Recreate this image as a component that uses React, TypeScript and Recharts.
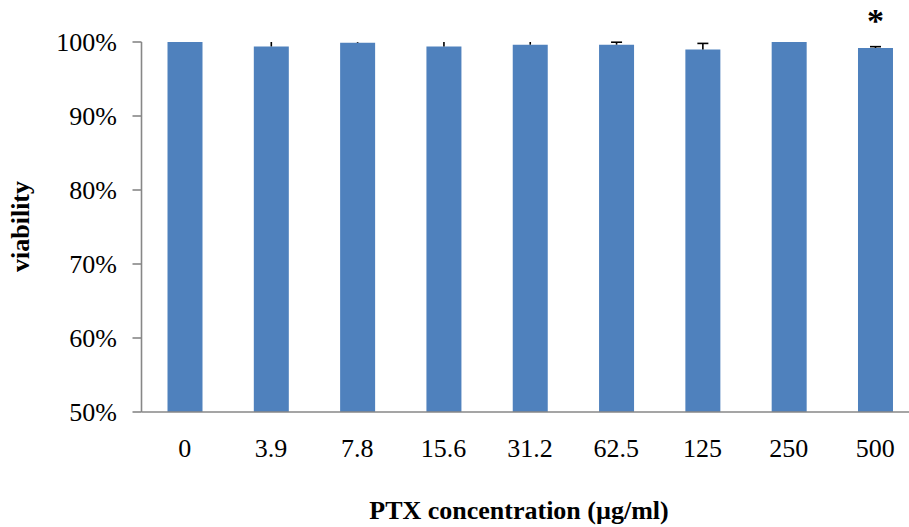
import React from "react";
import { BarChart, Bar, XAxis, YAxis, LabelList } from "recharts";

const categories = ["0", "3.9", "7.8", "15.6", "31.2", "62.5", "125", "250", "500"];
const viability = [100.0, 99.4, 99.9, 99.4, 99.64, 99.64, 99.0, 100.0, 99.19];
const errors = [0.05, 0.8, 0.15, 0.8, 0.8, 0.33, 0.81, 0, 0.18];
const significance = ["", "", "", "", "", "", "", "", "*"];
const yTicks = [50, 60, 70, 80, 90, 100];

const data = categories.map((c, i) => ({
  name: c,
  value: viability[i],
  err: errors[i],
  sig: significance[i],
}));

const FONT = "'Liberation Serif', 'Times New Roman', serif";
const AXIS = "#878787";
const DOMAIN_MIN = 50;
const DOMAIN_MAX = 100;

const ErrorMark = (props: any) => {
  const { x, y, width, height, index } = props;
  const d = data[index];
  if (!d) return null;
  const ppu = height / (d.value - DOMAIN_MIN);
  const plotTop = y + height - (DOMAIN_MAX - DOMAIN_MIN) * ppu;
  const cx = x + width / 2;
  const rawCap = y - d.err * ppu;
  const clipped = rawCap < plotTop - 0.01;
  const capY = Math.max(rawCap, plotTop);
  return (
    <g>
      {d.err > 0 && (
        <>
          <line x1={cx} x2={cx} y1={y} y2={capY} stroke="#000" strokeWidth={1.6} />
          {!clipped && (
            <line x1={cx - 5.5} x2={cx + 5.5} y1={capY} y2={capY} stroke="#000" strokeWidth={1.6} />
          )}
        </>
      )}
      {d.sig && (
        <text
          x={cx}
          y={y - 16}
          textAnchor="middle"
          fontFamily={FONT}
          fontWeight="bold"
          fontSize={34}
          fill="#000"
        >
          {d.sig}
        </text>
      )}
    </g>
  );
};

const YTitle = () => {
  const cx = 20;
  const cy = 226.5;
  return (
    <text
      x={cx}
      y={cy}
      transform={`rotate(-90 ${cx} ${cy})`}
      textAnchor="middle"
      dy="0.355em"
      fontFamily={FONT}
      fontWeight="bold"
      fontSize={26}
      fill="#000"
    >
      viability
    </text>
  );
};

const XTitle = () => {
  return (
    <text
      x={519}
      y={519}
      textAnchor="middle"
      fontFamily={FONT}
      fontWeight="bold"
      fontSize={26}
      fill="#000"
    >
      PTX concentration (µg/ml)
    </text>
  );
};

export default function App() {
  return (
    <>
      <style>{"html,body{margin:0;padding:0;overflow:hidden;}"}</style>
      <div style={{ width: 909, height: 527, overflow: "hidden" }}>
        <BarChart
          width={928}
          height={527}
          data={data}
          margin={{ top: 42, right: 9.7, bottom: 55, left: 41.5 }}
          barCategoryGap={0}
        >
          <XAxis
            dataKey="name"
            tickLine={false}
            tickSize={0}
            tickMargin={27}
            height={60}
            axisLine={{ stroke: AXIS, strokeWidth: 1.6 }}
            tick={{ fontFamily: FONT, fontSize: 26, fill: "#000" }}
            interval={0}
            label={<XTitle />}
          />
          <YAxis
            domain={[DOMAIN_MIN, DOMAIN_MAX]}
            ticks={yTicks}
            width={100}
            tickSize={9}
            tickMargin={15.5}
            axisLine={{ stroke: AXIS, strokeWidth: 1.6 }}
            tickLine={{ stroke: AXIS, strokeWidth: 1.6 }}
            tick={{ fontFamily: FONT, fontSize: 26, fill: "#000" }}
            tickFormatter={(v: number) => `${v}%`}
            label={<YTitle />}
          />
          <Bar dataKey="value" fill="#4F81BD" barSize={35} isAnimationActive={false}>
            <LabelList dataKey="err" content={<ErrorMark />} />
          </Bar>
        </BarChart>
      </div>
    </>
  );
}
